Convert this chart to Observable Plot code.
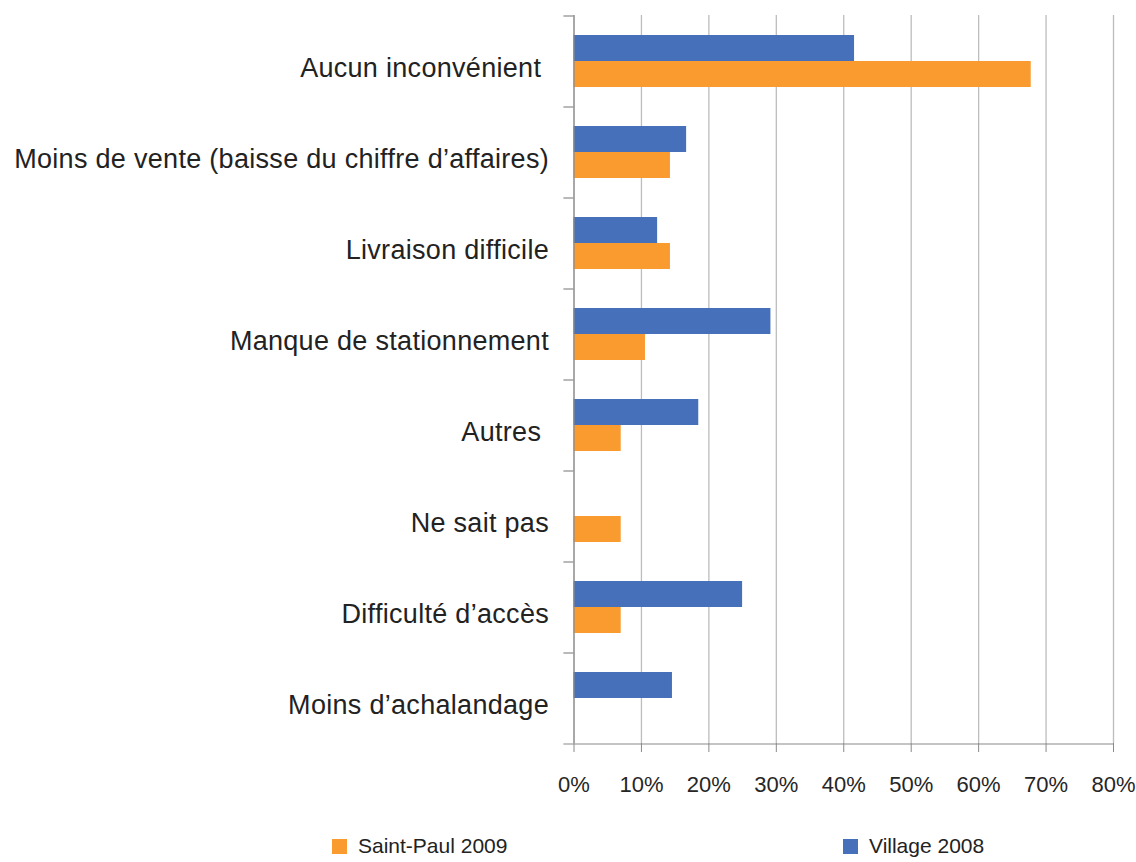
<!DOCTYPE html>
<html>
<head>
<meta charset="utf-8">
<script src="https://cdn.jsdelivr.net/npm/d3@7"></script>
<script src="https://cdn.jsdelivr.net/npm/@observablehq/plot@0.6"></script>
<style>
  body { margin: 0; background: #fff; font-family: "Liberation Sans", Arial, sans-serif; }
  #chart svg text { white-space: pre; }
  #legend { position: absolute; left: 0; top: 829px; width: 1136px; height: 34px; font-size: 21px; color: #222; }
  #legend .item { position: absolute; top: 0; height: 34px; display: flex; align-items: center; }
  #legend .sw { width: 15px; height: 15px; margin-right: 11px; }
</style>
</head>
<body>
<div id="chart"></div>
<div id="legend"></div>
<script>
// ---- data ----
const categories = [
  "Aucun inconvénient ",
  "Moins de vente (baisse du chiffre d’affaires)",
  "Livraison difficile",
  "Manque de stationnement",
  "Autres ",
  "Ne sait pas",
  "Difficulté d’accès",
  "Moins d’achalandage"
];
const seriesNames = ["Saint-Paul 2009", "Village 2008"];
const saintPaul2009 = [67.8, 14.3, 14.3, 10.6, 7.0, 7.0, 7.0, null];
const village2008   = [41.6, 16.7, 12.4, 29.2, 18.5, null, 25.0, 14.6];
const xTicks = [0, 10, 20, 30, 40, 50, 60, 70, 80];
const seriesColors = ["#FA9B2F", "#4670BA"];

// ---- table ----
const rows = categories.flatMap((c, i) => [
  {category: c, series: seriesNames[1], value: village2008[i]},
  {category: c, series: seriesNames[0], value: saintPaul2009[i]}
]).filter(d => d.value != null);

// ---- layout ----
const W = 1136, H = 812;
const plotTop = 15, plotBottom = 743, plotLeft = 573.5, plotRight = 1113;
const step = (plotBottom - plotTop) / categories.length;
const barH = step / 3.5;
const axisGray = "#8a8a8a";

const chart = Plot.plot({
  width: W,
  height: H,
  marginTop: plotTop,
  marginBottom: H - plotBottom,
  marginLeft: plotLeft,
  marginRight: W - plotRight,
  style: {fontFamily: "'Liberation Sans', Arial, sans-serif", background: "#fff", color: "#222", overflow: "visible"},
  x: {domain: [0, 80], label: null},
  y: {domain: [seriesNames[1], seriesNames[0]], paddingInner: 0, paddingOuter: 0.75, axis: null},
  fy: {domain: categories, padding: 0, label: null},
  color: {domain: seriesNames, range: seriesColors},
  marks: [
    Plot.gridX(xTicks, {stroke: "#bdbdbd", strokeOpacity: 1, strokeWidth: 1.3}),
    Plot.barX(rows, {x: "value", y: "series", fy: "category", fill: "series"}),
    Plot.ruleX([0], {stroke: axisGray, strokeWidth: 1.2}),
    Plot.ruleY(categories, {fy: d => d, y: () => seriesNames[1], x1: -1.5, x2: 0, dy: -1.25 * barH, stroke: axisGray, strokeWidth: 1.2}),
    Plot.ruleY([categories[categories.length - 1]], {fy: d => d, y: () => seriesNames[0], x1: -1.5, x2: 80, dy: 1.25 * barH, stroke: axisGray, strokeWidth: 1.2}),
    Plot.axisX(xTicks, {anchor: "bottom", tickFormat: d => d + "%", tickSize: 9, tickPadding: 24, fontSize: 22, stroke: axisGray, fill: "#262626", label: null}),
    Plot.axisFy({anchor: "left", tickSize: 0, tickPadding: 25, fontSize: 27, dy: 7, fill: "#222", label: null})
  ]
});
d3.select(chart).selectAll('[aria-label="fy-axis tick label"] text').style("letter-spacing", "0.3px");
document.getElementById("chart").appendChild(chart);

// ---- legend (HTML, below the SVG) ----
const legendX = [332, 843];
const legend = document.getElementById("legend");
seriesNames.forEach((name, i) => {
  const item = document.createElement("div");
  item.className = "item";
  item.style.left = legendX[i] + "px";
  const sw = document.createElement("span");
  sw.className = "sw";
  sw.style.background = seriesColors[i];
  const label = document.createElement("span");
  label.textContent = name;
  item.appendChild(sw);
  item.appendChild(label);
  legend.appendChild(item);
});
</script>
</body>
</html>
